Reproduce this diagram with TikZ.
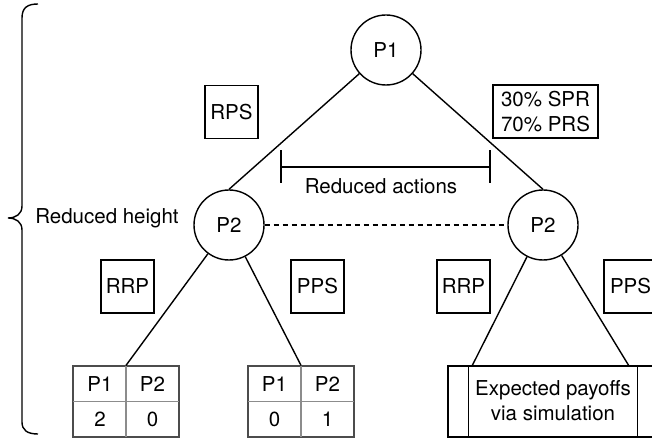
\documentclass[tikz,border=0pt]{standalone}
\usepackage{fontspec}
\setmainfont{TeX Gyre Heros}
\begin{document}
\begin{tikzpicture}[x=1pt,y=-1pt,line width=1.4pt,
  every node/.style={font=\fontsize{20.5}{25}\selectfont,inner sep=0pt},
  player/.style={circle,draw,minimum size=70pt},
  actbox/.style={rectangle,draw,minimum width=53pt,minimum height=53pt},
  tablebox/.style={rectangle,draw=black!70,line width=1.2pt,minimum width=106pt,minimum height=71pt},
  gridline/.style={draw=black!45,line width=1.1pt},
  link/.style={draw,line width=1.4pt},
  plain/.style={}]
\useasboundingbox (0,0) rectangle (652,443);
\clip (0,0) rectangle (652,443);

% brace
\draw (38,4) .. controls (27,4) and (22,8) .. (22,18) -- (22,206)
  .. controls (22,214) and (16,218) .. (8,218)
  .. controls (16,218) and (22,222) .. (22,230) -- (22,422)
  .. controls (22,430) and (27,434) .. (38,434);
\node[plain] (rh) at (107,218) {Reduced height};

% players
\node[player] (p1) at (386,50) {P1};
\node[player] (p2l) at (229,225) {P2};
\node[player] (p2r) at (543,225) {P2};

% action labels
\node[actbox] (rps) at (231.5,112) {RPS};
\node[rectangle,draw,minimum width=105pt,minimum height=53pt,align=center,font=\fontsize{20.5}{25}\selectfont] (mix) at (545.5,111.5) {30\% SPR\\70\% PRS};
\node[actbox] (rrpl) at (127.5,286.5) {RRP};
\node[actbox] (ppsl) at (317.5,286.5) {PPS};
\node[actbox] (rrpr) at (463.5,286.5) {RRP};
\node[actbox] (ppsr) at (630.5,286.5) {PPS};

% reduced actions bracket
\coordinate (ra1) at (281,167);
\coordinate (ra2) at (490,167);
\draw (ra1) -- (ra2);
\draw ([yshift=-16pt]ra1) -- ([yshift=17pt]ra1);
\draw ([yshift=-16pt]ra2) -- ([yshift=17pt]ra2);
\node[plain] (ratext) at (381,186) {Reduced actions};

% leaf tables
\node[tablebox] (t1) at (126,401.5) {};
\draw[gridline] (t1.north) -- (t1.south);
\draw[gridline] (t1.west) -- (t1.east);
\draw[draw=black!70,line width=1.2pt] (t1.north west) rectangle (t1.south east);
\node (t1a) at (100,384) {P1};
\node (t1b) at (152.5,384) {P2};
\node (t1c) at (100,419) {2};
\node (t1d) at (152.5,419) {0};

\node[tablebox] (t2) at (301,401.5) {};
\draw[gridline] (t2.north) -- (t2.south);
\draw[gridline] (t2.west) -- (t2.east);
\draw[draw=black!70,line width=1.2pt] (t2.north west) rectangle (t2.south east);
\node (t2a) at (274.5,384) {P1};
\node (t2b) at (327.5,384) {P2};
\node (t2c) at (274.5,419) {0};
\node (t2d) at (327.5,419) {1};

% simulation (predefined process)
\node[rectangle,draw,minimum width=210pt,minimum height=71pt] (sim) at (553,401.5) {};
\draw ([xshift=21pt]sim.north west) -- ([xshift=21pt]sim.south west);
\draw ([xshift=-21pt]sim.north east) -- ([xshift=-21pt]sim.south east);
\node[align=center] (simtext) at (553,401) {Expected payoffs\\via simulation};
\coordinate (s1) at (472,366);
\coordinate (s2) at (629,366);

% connectors
\draw[link] (p1) -- (p2l.north);
\draw[link] (p1) -- (p2r.north);
\draw[link,dash pattern=on 5pt off 4pt] (p2l) -- (p2r);
\draw[link] (p2l) -- (t1.north);
\draw[link] (p2l) -- (t2.north);
\draw[link] (p2r) -- (s1);
\draw[link] (p2r) -- (s2);
\end{tikzpicture}
\end{document}
